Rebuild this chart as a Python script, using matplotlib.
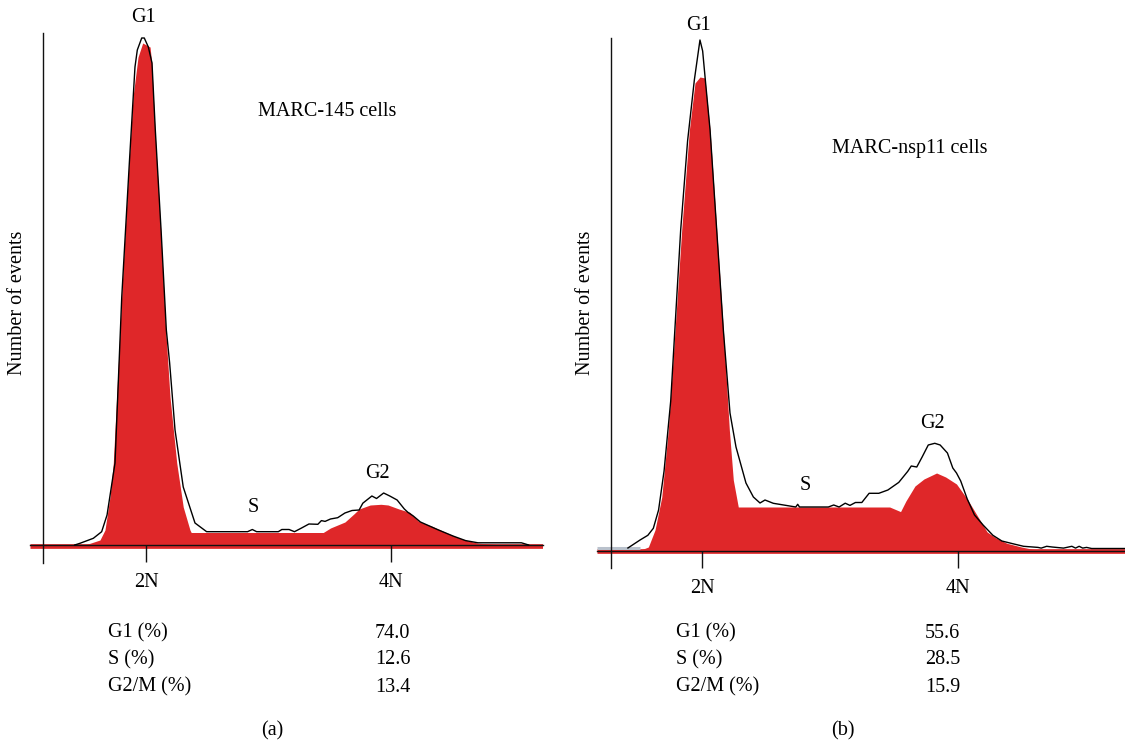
import matplotlib
matplotlib.use("Agg")
import matplotlib.pyplot as plt

plt.rcParams['font.family'] = ['Liberation Serif', 'DejaVu Serif']

RED = '#DF2729'

# ---------------- Panel (a): MARC-145 cells ----------------
a_black_ch = [141.8, 146.1, 157.0, 163.8, 168.2, 174.7, 180.2, 186.4, 191.0, 192.9, 196.5, 198.6,
              201.9, 204.9, 207.6, 212.3, 216.6, 219.3, 223.7, 230.4, 240.0, 249.5,
              282.9, 286.8, 290.3, 308.0, 310.9, 316.8, 321.2, 327.0, 333.0, 340.3, 343.2,
              346.2, 350.6, 356.5, 362.4, 368.2, 374.0, 377.0, 384.4, 388.2, 394.0, 399.0, 405.0,
              410.9, 413.8, 418.2, 424.0, 438.8, 450.6, 460.9, 471.0, 506.5, 512.4]
a_black_ev = [0, 1.7, 6.7, 13.3, 30, 82, 248, 382, 478, 495, 507, 507,
              498, 482, 415, 315, 215, 182, 115, 58, 22, 13.3,
              13.3, 15.5, 13.3, 13.3, 15.5, 15.5, 13.3, 17, 21, 20.7, 24.4,
              23.6, 26, 27.3, 32, 34.5, 35, 41.8, 49, 46.5, 52, 49, 45,
              36, 32.7, 29, 23, 15, 9, 4.4, 2.2, 2.2, 0]
a_red_ch = [150.0, 155.0, 162.4, 166.5, 170.6, 173.3, 177.4, 181.5, 186.1, 189.4, 193.5, 197.3,
            203.3, 204.7, 207.3, 212.0, 216.1, 219.6, 225.1, 230.4, 235.9, 236.9,
            344.7, 350.6, 362.4, 369.7, 374.0, 383.0, 391.8, 397.6, 406.5, 415.3, 422.6,
            433.0, 444.7, 453.5, 462.4, 471.0, 491.8]
a_red_ev = [0, 2, 5, 15, 48, 82, 182, 282, 382, 448, 488, 502,
            498, 482, 415, 315, 215, 148, 82, 38, 15, 12.5,
            12.5, 17, 23, 31, 36, 40, 40.7, 40, 36, 32.7, 23.6,
            19, 12.7, 8, 4.4, 1.8, 0]

# ---------------- Panel (b): MARC-nsp11 cells ----------------
b_black_ch = [142.0, 151.5, 157.6, 161.9, 166.0, 170.3, 175.5, 183.3, 188.7, 194.0, 198.4,
              200.5, 202.6, 206.3, 211.5, 216.7, 221.9, 226.6, 234.4, 240.2, 245.4, 249.3, 255.8,
              273.4, 274.9, 276.3, 298.9, 303.1, 307.3,
              312.1, 315.8, 320.1, 325.1, 330.8, 338.4, 345.5, 354.0, 361.0, 363.8, 368.1, 372.3,
              377.1, 382.2, 386.4, 392.1, 396.3, 399.2, 402.5, 407.6, 413.3, 420.0, 427.7, 434.7,
              443.2, 451.7, 463.0, 465.5, 469.8, 474.0, 483.0, 489.5, 492.4, 495.2, 498.0, 501.0,
              505.0, 531.0]
b_black_ev = [3, 11, 15.7, 22.7, 41, 80, 150, 321, 410, 471, 511,
              500, 471, 421, 321, 221, 138, 104, 68, 54, 48, 51, 47.7,
              44, 46.7, 44, 44, 46, 44,
              47.8, 45.6, 48.5, 48.5, 57.7, 57.7, 61, 68.6, 79.6, 85, 84, 94,
              106, 107.7, 106, 98, 83, 78, 70, 52, 36, 26, 15.7, 10,
              7.3, 4.7, 3.6, 2.9, 4.7, 4, 2.9, 4.7, 2.9, 4.7, 2.9, 3.6,
              2.5, 2.5]
b_red_ch = [150.0, 158.0, 163.2, 168.5, 173.6, 178.9, 184.1, 190.1, 194.5, 198.4, 202.3,
            206.3, 211.5, 216.7, 221.4, 224.5, 228.4, 228.8,
            346.9, 355.4, 359.6, 366.7, 373.7, 383.6, 390.7, 399.2, 407.6, 416.1, 423.2,
            430.2, 438.7, 450.0, 458.5, 467.0]
b_red_ev = [0, 4, 21, 54, 121, 221, 321, 421, 468, 474, 473,
            421, 321, 221, 121, 71, 44, 44,
            44, 39.4, 50, 65, 72, 78, 74, 67, 52, 34, 19,
            13, 7.7, 4, 1.8, 0]

tick_pos = [200, 400]
tick_labels = ['2N', '4N']
row_labels = ['G1 (%)', 'S (%)', 'G2/M (%)']
a_percent = ['74.0', '12.6', '13.4']
b_percent = ['55.6', '28.5', '15.9']

W, H = 1125, 743
FS = 14.5
fig = plt.figure(figsize=(W / 100, H / 100), dpi=100)


def px_axes(l, r, t, b):
    return fig.add_axes([l / W, 1 - b / H, (r - l) / W, (b - t) / H])


def panel(ax, xlim, ylim, left_spine_x, bch, bev, rch, rev, red_y):
    ax.set_xlim(*xlim)
    ax.set_ylim(*ylim)
    ax.axhline(red_y, color=RED, lw=3.4, zorder=1, solid_capstyle='butt')
    ax.fill_between(rch, 0, rev, color=RED, lw=0, zorder=2)
    ax.plot(bch, bev, color='black', lw=1.0, zorder=4)
    for s in ['top', 'right']:
        ax.spines[s].set_visible(False)
    ax.spines['left'].set_position(('data', left_spine_x))
    ax.spines['bottom'].set_position(('data', 0))
    for s in ['left', 'bottom']:
        ax.spines[s].set_linewidth(1.0)
        ax.spines[s].set_color('#111111')
        ax.spines[s].set_zorder(3)
    ax.set_yticks([])
    ax.set_xticks(tick_pos)
    ax.set_xticklabels(tick_labels, fontsize=FS)
    ax.tick_params(axis='x', direction='out', length=12.5, width=1.0, pad=8, color='#111111')
    ax.patch.set_alpha(0)


axa = px_axes(30, 543, 33, 563)
panel(axa, (105.3, 524.1), (-18, 512), 115.7, a_black_ch, a_black_ev, a_red_ch, a_red_ev, -1)

axb = px_axes(597, 1125, 38, 568)
panel(axb, (117.8, 531.1), (-17, 513), 128.8, b_black_ch, b_black_ev, b_red_ch, b_red_ev, 0)
axb.plot([117.8, 151.5], [3.5, 3.5], color='#B9C1CC', lw=2.2, zorder=1.5, solid_capstyle='butt')


def ftext(x, y, s, ha='center', **kw):
    fig.text(x / W, 1 - y / H, s, ha=ha, va='center', fontsize=FS, **kw)


# Annotations panel (a)
ftext(143, 18, 'G1')
ftext(327, 112, 'MARC-145 cells')
ftext(253, 508, 'S')
ftext(377, 473, 'G2')
ftext(18, 303, 'Number of events', rotation=90)
# Annotations panel (b)
ftext(698, 25, 'G1')
ftext(910, 149, 'MARC-nsp11 cells')
ftext(805, 486, 'S')
ftext(932, 423, 'G2')
ftext(586, 303, 'Number of events', rotation=90)

row_y = [633, 660, 687]
for y, lab, va_, vb_ in zip(row_y, row_labels, a_percent, b_percent):
    ftext(108, y, lab, ha='left')
    ftext(375, y, va_, ha='left')
    ftext(676, y, lab, ha='left')
    ftext(925, y, vb_, ha='left')

ftext(272, 731, '(a)')
ftext(843, 731, '(b)')

fig.savefig('out.png', dpi=100)
